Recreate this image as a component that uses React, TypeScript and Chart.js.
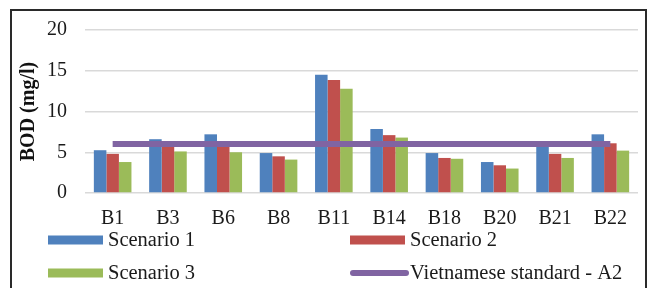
import React, { useEffect, useRef } from "react";
import { Chart, registerables } from "chart.js";

Chart.register(...registerables);

const categories = ["B1", "B3", "B6", "B8", "B11", "B14", "B18", "B20", "B21", "B22"];
const scenario1 = [5.25, 6.6, 7.2, 4.9, 14.5, 7.85, 4.9, 3.8, 5.8, 7.2];
const scenario2 = [4.8, 5.7, 6.3, 4.5, 13.85, 7.1, 4.3, 3.4, 4.8, 6.1];
const scenario3 = [3.8, 5.1, 5.0, 4.1, 12.8, 6.8, 4.2, 3.0, 4.3, 5.2];
const standardA2 = [6, 6, 6, 6, 6, 6, 6, 6, 6, 6];
const seriesLabels = ["Scenario 1", "Scenario 2", "Scenario 3", "Vietnamese standard - A2"];
const yTicks = [0, 5, 10, 15, 20];

const FONT = "'Times New Roman', 'Liberation Serif', serif";

const legendPlugin = {
  id: "gridLegend",
  afterDraw(chart: any) {
    const ctx = chart.ctx;
    const colX = [48, 350];
    const rowY = [240, 273];
    ctx.save();
    chart.data.datasets.forEach((ds: any, i: number) => {
      const x = colX[i % 2];
      const y = rowY[Math.floor(i / 2)];
      if (ds.type === "line") {
        ctx.strokeStyle = ds.borderColor;
        ctx.lineWidth = 6;
        ctx.lineCap = "round";
        ctx.beginPath();
        ctx.moveTo(x + 3, y);
        ctx.lineTo(x + 56, y);
        ctx.stroke();
      } else {
        ctx.fillStyle = ds.backgroundColor;
        ctx.fillRect(x, y - 4.5, 55, 9);
      }
      ctx.fillStyle = "#1a1a1a";
      ctx.font = `20.5px ${FONT}`;
      ctx.textBaseline = "middle";
      ctx.textAlign = "left";
      ctx.fillText(ds.label, x + 60, y + 1);
    });
    ctx.restore();
  },
};

export default function App() {
  const ref = useRef<HTMLCanvasElement>(null);

  useEffect(() => {
    if (!ref.current) return;
    const chart = new Chart(ref.current, {
      type: "bar",
      data: {
        labels: categories,
        datasets: [
          { type: "bar", label: seriesLabels[0], data: scenario1, backgroundColor: "#4F81BD", order: 1, categoryPercentage: 0.68, barPercentage: 1 },
          { type: "bar", label: seriesLabels[1], data: scenario2, backgroundColor: "#C0504D", order: 1, categoryPercentage: 0.68, barPercentage: 1 },
          { type: "bar", label: seriesLabels[2], data: scenario3, backgroundColor: "#9BBB59", order: 1, categoryPercentage: 0.68, barPercentage: 1 },
          { type: "line", label: seriesLabels[3], data: standardA2, borderColor: "#8064A2", backgroundColor: "#8064A2", borderWidth: 6, pointRadius: 0, order: 0, borderCapStyle: "butt" } as any,
        ],
      },
      options: {
        responsive: false,
        animation: false,
        devicePixelRatio: 1,
        layout: { padding: { left: 12, right: 12, top: 23, bottom: 0 } },
        plugins: { legend: { display: false }, tooltip: { enabled: false } },
        scales: {
          x: {
            grid: { display: false, drawTicks: false },
            border: { display: false },
            ticks: { color: "#1a1a1a", font: { family: FONT, size: 20 }, padding: 14, maxRotation: 0, autoSkip: false },
            afterFit: (s: any) => { s.height = 95; },
          },
          y: {
            min: 0,
            max: 20,
            afterBuildTicks: (s: any) => { s.ticks = yTicks.map((v) => ({ value: v })); },
            grid: { color: "#d9d9d9", lineWidth: 1.5, drawTicks: false },
            border: { display: false },
            ticks: { color: "#1a1a1a", font: { family: FONT, size: 20 }, padding: 18 },
            title: { display: true, text: "BOD (mg/l)", color: "#111", font: { family: FONT, size: 20, weight: "bold" }, padding: { top: 5, bottom: 0 } },
            afterFit: (s: any) => { s.width = 73; },
          },
        },
      },
      plugins: [legendPlugin],
    });
    return () => chart.destroy();
  }, []);

  return (
    <div style={{ position: "fixed", left: 0, top: 0, width: 650, height: 288, background: "#fff", overflow: "hidden" }}>
      <div style={{ position: "absolute", left: 10, top: 9, width: 637, height: 300, border: "2px solid #2a2a2a", boxSizing: "border-box" }} />
      <canvas ref={ref} width={650} height={288} style={{ position: "absolute", left: 0, top: 0, width: 650, height: 288 }} />
    </div>
  );
}
